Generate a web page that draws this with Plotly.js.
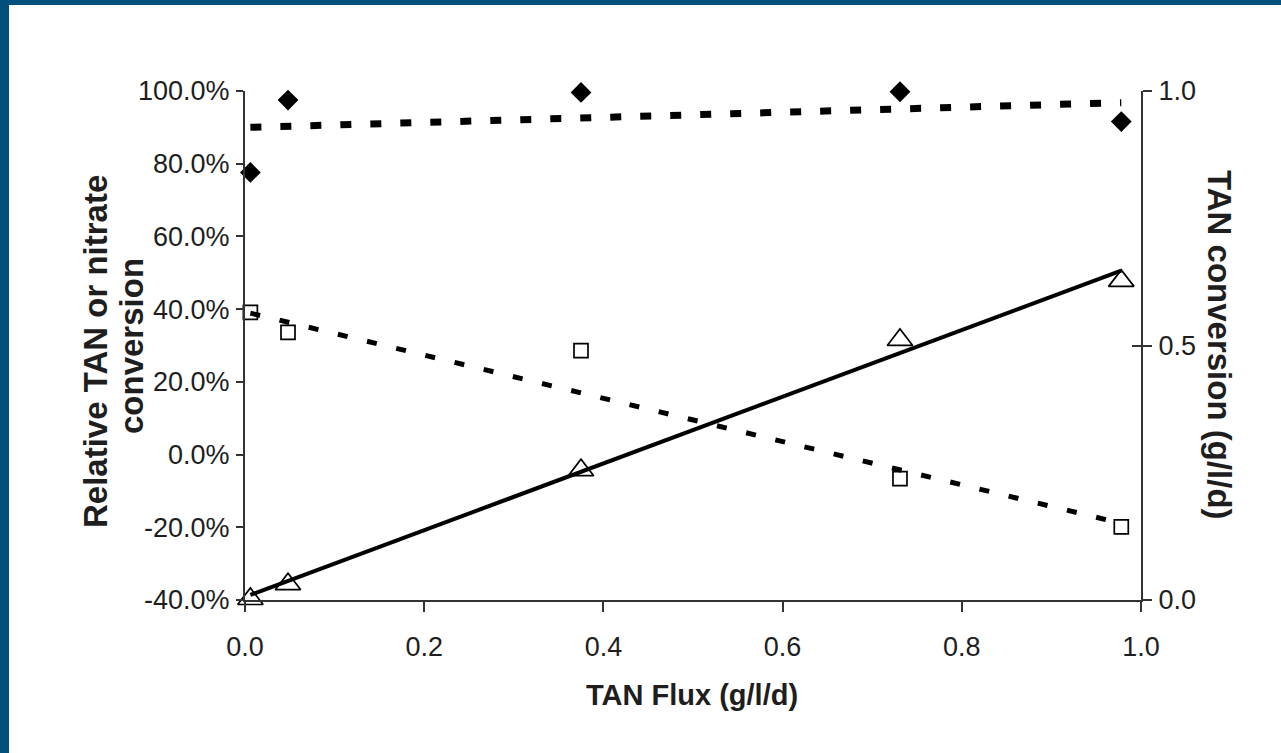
<!DOCTYPE html>
<html><head><meta charset="utf-8">
<script src="https://cdn.plot.ly/plotly-3.0.1.min.js"></script>
<style>
html,body{margin:0;padding:0;background:#fff;overflow:hidden}
#frameL{position:absolute;left:0;top:0;width:9px;height:753px;background:#004f7c;z-index:10}
#frameT{position:absolute;left:0;top:0;width:1281px;height:5px;background:#004f7c;z-index:10}
</style></head><body>
<div id="chart" style="width:1281px;height:753px"></div>
<div id="frameL"></div><div id="frameT"></div>
<script>
// Data
const flux = [0.006, 0.048, 0.375, 0.731, 0.978];
const nitrateConv = [77.6, 97.5, 99.6, 99.8, 91.6];      // % (filled diamonds)
const relTanConv = [39.1, 33.6, 28.6, -6.6, -19.9];      // % (open squares)
const tanConv = [0.002, 0.031, 0.255, 0.511, 0.627];     // g/l/d (open triangles, right axis)
const trendX = [0.006, 0.978];
const nitrateTrend = [90.0, 96.8];
const relTanTrend = [38.9, -18.9];
const tanTrend = [0.010, 0.647];
const leftTickVals = [-40, -20, 0, 20, 40, 60, 80, 100];
const leftTickText = ["-40.0%", "-20.0%", "0.0%", "20.0%", "40.0%", "60.0%", "80.0%", "100.0%"];
const xTickVals = [0, 0.2, 0.4, 0.6, 0.8, 1.0];
const xTickText = ["0.0", "0.2", "0.4", "0.6", "0.8", "1.0"];
const rightTickVals = [0, 0.5, 1.0];
const rightTickText = ["0.0", "0.5", "1.0"];
const xTitle = "TAN Flux (g/l/d)";
const leftTitleLines = ["Relative TAN or nitrate", "conversion"];
const rightTitle = "TAN conversion (g/l/d)";

const FONT = "Liberation Sans, Arial, Helvetica, sans-serif";
const TXT = "#1e1e1e";
const TICKSIZE = 27;

const traces = [
  {x: trendX, y: nitrateTrend, mode: 'lines', yaxis: 'y', hoverinfo: 'skip', cliponaxis: false,
   line: {color: '#000', width: 7, dash: '11px,19px'}},
  {x: trendX, y: relTanTrend, mode: 'lines', yaxis: 'y', hoverinfo: 'skip', cliponaxis: false,
   line: {color: '#000', width: 5, dash: '10px,20px'}},
  {x: trendX, y: tanTrend, mode: 'lines', yaxis: 'y2', hoverinfo: 'skip', cliponaxis: false,
   line: {color: '#000', width: 4}},
  {x: flux, y: nitrateConv, mode: 'markers', yaxis: 'y', name: 'Nitrate', cliponaxis: false,
   marker: {symbol: 'diamond', size: 16, color: '#000'}},
  {x: flux, y: relTanConv, mode: 'markers', yaxis: 'y', name: 'Relative TAN', cliponaxis: false,
   marker: {symbol: 'square-open', size: 14, color: '#000', line: {width: 1.7, color: '#000'}}},
  {x: flux, y: tanConv, mode: 'markers', yaxis: 'y2', name: 'TAN conversion', cliponaxis: false,
   marker: {symbol: 'triangle-up-open', size: 22, color: '#000', line: {width: 1.7, color: '#000'}}}
];

const layout = {
  width: 1281, height: 753,
  margin: {l: 245, r: 140, t: 91, b: 153},
  paper_bgcolor: '#fff', plot_bgcolor: '#fff',
  showlegend: false,
  font: {family: FONT, color: TXT, size: TICKSIZE},
  xaxis: {
    range: [0, 1], tickvals: xTickVals, ticktext: xTickText,
    showgrid: false, zeroline: false, showline: true, linecolor: '#333', linewidth: 2,
    ticks: 'outside', ticklen: 10, tickwidth: 2, tickcolor: '#333',
    ticklabelstandoff: 12, tickfont: {size: TICKSIZE, color: TXT, family: FONT}
  },
  yaxis: {
    range: [-40, 100], tickvals: leftTickVals, ticktext: leftTickText,
    showgrid: false, zeroline: false, showline: true, linecolor: '#333', linewidth: 2,
    ticks: 'outside', ticklen: 7, tickwidth: 2, tickcolor: '#333',
    ticklabelstandoff: 1, tickfont: {size: TICKSIZE, color: TXT, family: FONT}
  },
  yaxis2: {
    range: [0, 1], tickvals: rightTickVals, ticktext: rightTickText,
    overlaying: 'y', side: 'right', anchor: 'x',
    showgrid: false, zeroline: false, showline: true, linecolor: '#333', linewidth: 2,
    ticks: 'outside', ticklen: 9, tickwidth: 2, tickcolor: '#333',
    ticklabelstandoff: 1, tickfont: {size: TICKSIZE, color: TXT, family: FONT}
  },
  yaxis3: {
    range: [0, 1], tickvals: rightTickVals, overlaying: 'y', side: 'right', anchor: 'x',
    showgrid: false, zeroline: false, showline: false, showticklabels: false,
    ticks: 'inside', ticklen: 9, tickwidth: 2, tickcolor: '#333'
  },
  annotations: [
    {text: xTitle, xref: 'paper', yref: 'paper', x: (692 - 245) / 896, y: (600 - 695) / 509,
     xanchor: 'center', yanchor: 'middle', showarrow: false,
     font: {family: FONT, size: 29, color: TXT, weight: 'bold'}},
    {text: leftTitleLines[0], xref: 'paper', yref: 'paper', x: (95 - 245) / 896, y: (600 - 352) / 509,
     xanchor: 'center', yanchor: 'middle', showarrow: false, textangle: -90,
     font: {family: FONT, size: 33, color: TXT, weight: 'bold'}},
    {text: leftTitleLines[1], xref: 'paper', yref: 'paper', x: (131 - 245) / 896, y: (600 - 346) / 509,
     xanchor: 'center', yanchor: 'middle', showarrow: false, textangle: -90,
     font: {family: FONT, size: 33, color: TXT, weight: 'bold'}},
    {text: rightTitle, xref: 'paper', yref: 'paper', x: (1220 - 245) / 896, y: (600 - 345) / 509,
     xanchor: 'center', yanchor: 'middle', showarrow: false, textangle: 90,
     font: {family: FONT, size: 33, color: TXT, weight: 'bold'}}
  ]
};

// invisible trace to activate yaxis3 for the crossing tick marks
traces.push({x: [0], y: [0], yaxis: 'y3', mode: 'markers', marker: {opacity: 0}, hoverinfo: 'skip'});

Plotly.newPlot('chart', traces, layout, {staticPlot: true, displayModeBar: false});
</script>
</body></html>
